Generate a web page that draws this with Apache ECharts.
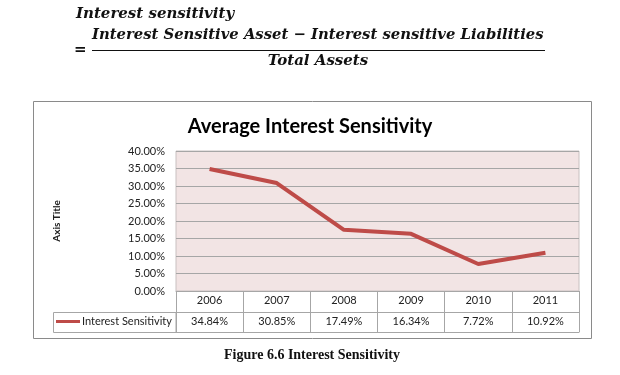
<!DOCTYPE html>
<html>
<head>
<meta charset="utf-8">
<script src="https://cdn.jsdelivr.net/npm/echarts@6/dist/echarts.min.js"></script>
<style>
  html, body { margin: 0; padding: 0; background: #fff; }
  #chart { width: 620px; height: 375px; }
</style>
</head>
<body>
<div id="chart"></div>
<script>
// data
var years = ["2006", "2007", "2008", "2009", "2010", "2011"];
var sensitivity = [34.84, 30.85, 17.49, 16.34, 7.72, 10.92];
var seriesName = "Interest Sensitivity";

var valueLabels = sensitivity.map(function (v) { return v.toFixed(2) + "%"; });

var chart = echarts.init(document.getElementById("chart"));

var gridColor = "#a6a6a6";
var mathFont = "'DejaVu Serif', serif";
var serif = "'Liberation Serif', 'DejaVu Serif', serif";

var option = {
  animation: false,
  backgroundColor: "#fff",
  textStyle: { fontFamily: "Lato, 'Open Sans', sans-serif" },
  title: {
    text: "Average Interest Sensitivity",
    left: "center",
    top: 112,
    textStyle: { fontFamily: "Lato", fontWeight: "bold", fontSize: 20, color: "#000" }
  },
  legend: {
    left: 56,
    top: 316,
    padding: 0,
    icon: "rect",
    itemWidth: 24,
    itemHeight: 3,
    itemGap: 2,
    textStyle: { fontFamily: "Lato", fontSize: 11, color: "#222", padding: [0, 0, 0, -3] },
    data: [seriesName]
  },
  grid: {
    left: 176,
    right: 41,
    top: 151,
    bottom: 84,
    show: true,
    backgroundColor: "#f2e4e4",
    borderColor: "#c8c0c0",
    borderWidth: 1
  },
  xAxis: [
    {
      type: "category",
      data: years,
      position: "bottom",
      axisLine: { lineStyle: { color: gridColor } },
      axisTick: { show: true, length: 41, lineStyle: { color: gridColor } },
      axisLabel: { fontSize: 11, color: "#222", margin: 4 }
    },
    {
      type: "category",
      data: valueLabels,
      position: "bottom",
      offset: 21,
      axisLine: { lineStyle: { color: gridColor } },
      axisTick: { show: false },
      axisLabel: { fontSize: 11, color: "#222", margin: 4 }
    },
    {
      type: "category",
      data: years,
      position: "bottom",
      offset: 41,
      axisLine: { lineStyle: { color: gridColor } },
      axisTick: { show: false },
      axisLabel: { show: false }
    }
  ],
  yAxis: {
    type: "value",
    min: 0,
    max: 40,
    interval: 5,
    name: "Axis Title",
    nameLocation: "middle",
    nameRotate: 90,
    nameGap: 114,
    nameTextStyle: { fontFamily: "Lato", fontWeight: "bold", fontSize: 10, color: "#222" },
    axisLine: { show: false },
    axisTick: { show: false },
    axisLabel: {
      fontSize: 11,
      color: "#222",
      margin: 11,
      formatter: function (v) { return v.toFixed(2) + "%"; }
    },
    splitLine: { lineStyle: { color: gridColor, width: 1 } }
  },
  series: [
    {
      name: seriesName,
      type: "line",
      data: sensitivity,
      symbol: "none",
      lineStyle: { color: "#be4b48", width: 4 },
      itemStyle: { color: "#be4b48" }
    }
  ],
  graphic: [
    // chart frame
    { type: "rect", shape: { x: 33.5, y: 101.5, width: 558, height: 237 },
      style: { fill: null, stroke: "#8a8a8a", lineWidth: 1 }, z: 0, silent: true },
    // legend cell of the data table
    { type: "rect", shape: { x: 53.5, y: 312.5, width: 122.5, height: 20 },
      style: { fill: null, stroke: gridColor, lineWidth: 1 }, z: 10, silent: true },
    // formula above the chart
    { type: "text", left: 76, top: 7,
      style: { text: "Interest sensitivity", font: "bold italic 15px " + mathFont, fill: "#111" } },
    { type: "text", left: 74, top: 43,
      style: { text: "=", font: "bold 15px " + mathFont, fill: "#111" } },
    { type: "text", left: 92, top: 28,
      style: { text: "Interest Sensitive Asset \u2212 Interest sensitive Liabilities", font: "bold italic 14.8px " + mathFont, fill: "#111" } },
    { type: "line", shape: { x1: 92, y1: 50.5, x2: 545, y2: 50.5 },
      style: { stroke: "#111", lineWidth: 1.2 } },
    { type: "text", x: 318, y: 54,
      style: { text: "Total Assets", font: "bold italic 15px " + mathFont, fill: "#111", textAlign: "center" } },
    // caption
    { type: "text", x: 312, y: 348,
      style: { text: "Figure 6.6 Interest Sensitivity", font: "bold 14px " + serif, fill: "#111", textAlign: "center" } }
  ]
};

chart.setOption(option);
</script>
</body>
</html>
